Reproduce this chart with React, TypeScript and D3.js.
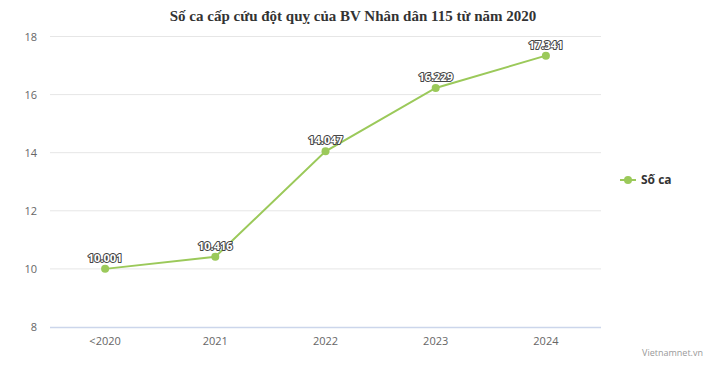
import React from "react";
import * as d3 from "d3";

const categories = ["<2020", "2021", "2022", "2023", "2024"];
const values = [10.001, 10.416, 14.047, 16.229, 17.341];
const yTicks = [8, 10, 12, 14, 16, 18];
const title = "Số ca cấp cứu đột quỵ của BV Nhân dân 115 từ năm 2020";
const seriesName = "Số ca";
const source = "Vietnamnet.vn";

const W = 705, H = 372;
const left = 50, right = 601, top = 36.5, bottom = 327;
const color = "#9bc95a";
const font = "'Open Sans', 'Noto Sans', sans-serif";

export default function App() {
  const x = d3.scaleBand().domain(categories).range([left, right]);
  const y = d3.scaleLinear().domain([8, 18]).range([bottom, top]);
  const cx = (c: string) => (x(c) as number) + x.bandwidth() / 2;
  const line = d3.line<number>().x((_, i) => cx(categories[i])).y((d) => y(d));
  const fmt = (v: number) => v.toFixed(3);
  return (
    <svg width={W} height={H} style={{ position: "absolute", left: 0, top: 0, background: "#fff" }}>
      <text x={353} y={21} textAnchor="middle" fontFamily="'Liberation Serif', 'DejaVu Serif', serif" fontWeight="bold" fontSize={15} fill="#333">{title}</text>
      {yTicks.map((t) => (
        <g key={t}>
          {t !== 8 && <line x1={left} x2={right} y1={y(t)} y2={y(t)} stroke="#e6e6e6" strokeWidth={1} />}
          <text x={37} y={y(t) + 4} textAnchor="end" fontFamily={font} fontSize={11} fill="#666">{t}</text>
        </g>
      ))}
      <line x1={left} x2={right} y1={bottom + 0.5} y2={bottom + 0.5} stroke="#ccd6eb" strokeWidth={1.5} />
      {categories.map((c) => (
        <text key={c} x={cx(c)} y={345} textAnchor="middle" fontFamily={font} fontSize={11} fill="#666">{c}</text>
      ))}
      <path d={line(values) || ""} fill="none" stroke={color} strokeWidth={2} />
      {values.map((v, i) => (
        <circle key={i} cx={cx(categories[i])} cy={y(v)} r={4} fill={color} />
      ))}
      {values.map((v, i) => (
        <text key={"l" + i} x={cx(categories[i])} y={y(v) - 7} textAnchor="middle" fontFamily={font} fontSize={11} fontWeight="bold" fill="#fff" stroke="#444" strokeWidth={2} strokeLinejoin="round" style={{ paintOrder: "stroke" }}>{fmt(v)}</text>
      ))}
      <line x1={620} x2={636} y1={180} y2={180} stroke={color} strokeWidth={2} />
      <circle cx={628} cy={180} r={4} fill={color} />
      <text x={641} y={184} fontFamily={font} fontSize={12} fontWeight="bold" fill="#333">{seriesName}</text>
      <text x={703} y={356} textAnchor="end" fontFamily={font} fontSize={9} fill="#999">{source}</text>
    </svg>
  );
}
